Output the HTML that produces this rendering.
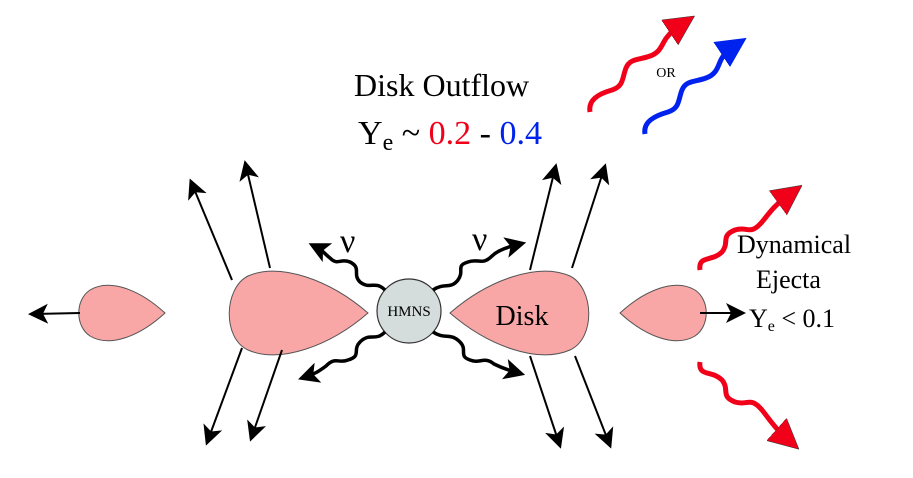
<!DOCTYPE html>
<html><head><style>body{margin:0;background:#fff}svg{display:block}text{font-family:"Liberation Serif",serif}</style></head><body>
<svg width="913" height="478" viewBox="0 0 913 478" xmlns="http://www.w3.org/2000/svg">
<defs>
<marker id="a" markerWidth="10" markerHeight="10" refX="7" refY="5" orient="auto" markerUnits="strokeWidth"><path d="M0,0 L10,5 L0,10 L2.5,5z" fill="#000"/></marker>
<marker id="w" markerWidth="6" markerHeight="6" refX="3" refY="3" orient="auto" markerUnits="strokeWidth"><path d="M0,0 L6,3 L0,6 L1.4,3z" fill="#000"/></marker>
<marker id="r" markerWidth="6" markerHeight="6" refX="2" refY="3" orient="auto" markerUnits="strokeWidth"><path d="M0,0 L6,3 L0,6z" fill="#f00019" stroke="#333" stroke-width="0.1"/></marker>
<marker id="b" markerWidth="6" markerHeight="6" refX="2" refY="3" orient="auto" markerUnits="strokeWidth"><path d="M0,0 L6,3 L0,6z" fill="#0022ee"/></marker>
</defs>
<g fill="#f9a6a6" stroke="#555" stroke-width="1">
<path d="M165,313 C140,290 110,278 90,290 C75,300 75,326 90,336 C110,348 140,336 165,313z"/>
<path d="M368,313 C330,280 280,262 248,276 C224,288 222,338 248,350 C280,364 330,346 368,313z"/>
<path d="M450,313 C488,280 538,262 570,276 C594,288 596,338 570,350 C538,364 488,346 450,313z"/>
<path d="M620,313 C645,290 675,278 695,290 C710,300 710,326 695,336 C675,348 645,336 620,313z"/>
</g>
<circle cx="409" cy="311" r="32" fill="#d5dcdc" stroke="#333" stroke-width="1.2"/>
<text x="409" y="316" font-size="15" text-anchor="middle">HMNS</text>
<text x="522" y="325" font-size="28" text-anchor="middle">Disk</text>
<g stroke="#000" stroke-width="2" fill="none" marker-end="url(#a)">
<line x1="80" y1="313" x2="34" y2="314"/>
<line x1="700" y1="313" x2="740" y2="313"/>
<line x1="232" y1="280" x2="192" y2="184"/>
<line x1="270" y1="268" x2="246" y2="166"/>
<line x1="242" y1="348" x2="208" y2="440"/>
<line x1="282" y1="350" x2="252" y2="436"/>
<line x1="530" y1="270" x2="555" y2="169"/>
<line x1="572" y1="268" x2="604" y2="169"/>
<line x1="530" y1="356" x2="559" y2="443"/>
<line x1="575" y1="356" x2="609" y2="443"/>
</g>
<g stroke="#000" stroke-width="3.5" fill="none" marker-end="url(#w)">
<path d="M385,290 C375,280 370,290 360,282 C352,274 362,268 350,262 C340,258 338,266 330,258 C325,254 322,250 318,248"/>
<path d="M433,290 C445,282 450,290 458,280 C465,270 455,266 468,262 C478,258 482,266 492,256 C498,250 508,247 516,245"/>
<path d="M385,332 C375,342 370,332 360,342 C352,350 362,356 348,360 C338,364 336,356 326,366 C318,372 314,374 308,376"/>
<path d="M433,332 C445,340 450,332 460,342 C468,350 458,356 470,360 C480,364 484,356 494,364 C502,368 508,370 515,372"/>
</g>
<g stroke="#f00019" stroke-width="5" fill="none">
<path d="M700,270 C698,255 712,262 722,252 C730,242 720,236 735,230 C748,226 750,236 762,222 C770,212 775,205 786,197" marker-end="url(#r)"/>
<path d="M700,362 C698,377 712,370 722,380 C730,390 720,396 735,402 C748,406 750,396 762,410 C770,420 775,428 784,436" marker-end="url(#r)"/>
<path d="M590,112 C588,100 598,94 612,90 C624,86 622,78 626,68 C630,58 640,60 650,56 C662,52 662,42 668,36 C672,31 675,29 678,27" marker-end="url(#r)"/>
</g>
<path d="M645,134 C643,122 654,116 668,112 C680,108 678,100 682,90 C686,80 696,82 706,78 C718,74 718,64 722,58 C725,53 727,51 730,49" stroke="#0022ee" stroke-width="5" fill="none" marker-end="url(#b)"/>
<text x="666" y="77" font-size="14" text-anchor="middle">OR</text>
<text x="354" y="96" font-size="32">Disk Outflow</text>
<text x="358" y="144" font-size="34">Y<tspan font-size="24" dy="6">e</tspan><tspan dy="-6"> ~ </tspan><tspan fill="#f00019">0.2</tspan> - <tspan fill="#0022ee">0.4</tspan></text>
<text x="340" y="252" font-size="34">ν</text>
<text x="472" y="250" font-size="34">ν</text>
<text x="737" y="253" font-size="26">Dynamical</text>
<text x="756" y="288" font-size="26">Ejecta</text>
<text x="749" y="327" font-size="26">Y<tspan font-size="16" dy="4">e</tspan><tspan dy="-4"> &lt; 0.1</tspan></text>
</svg>
</body></html>
